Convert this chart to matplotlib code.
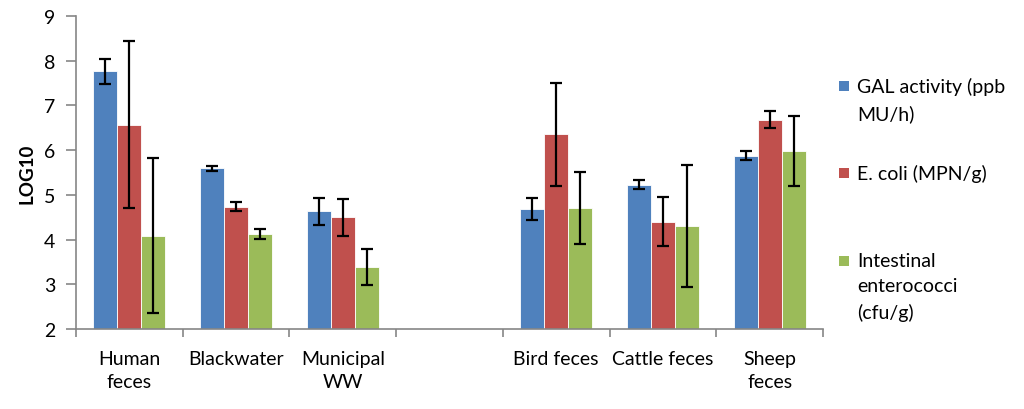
import numpy as np
import matplotlib.pyplot as plt
from matplotlib.patches import Rectangle

plt.rcParams['font.family'] = ['Lato', 'DejaVu Sans']

# categorias (a quarta fica vazia, como no gráfico original)
categorias = ['Human\nfeces', 'Blackwater', 'Municipal\nWW', '',
              'Bird feces', 'Cattle feces', 'Sheep\nfeces']

gal = [7.76, 5.59, 4.63, np.nan, 4.68, 5.23, 5.87]
gal_err = [0.27, 0.05, 0.31, np.nan, 0.25, 0.10, 0.10]

ecoli = [6.57, 4.73, 4.50, np.nan, 6.35, 4.40, 6.68]
ecoli_err = [1.87, 0.10, 0.41, np.nan, 1.15, 0.55, 0.19]

entero = [4.09, 4.13, 3.39, np.nan, 4.71, 4.30, 5.98]
entero_err = [1.74, 0.11, 0.40, np.nan, 0.81, 1.37, 0.79]

series = [
    (gal, gal_err, '#4F81BD', 'GAL activity (ppb\nMU/h)'),
    (ecoli, ecoli_err, '#C0504D', 'E. coli (MPN/g)'),
    (entero, entero_err, '#9BBB59', 'Intestinal\nenterococci\n(cfu/g)'),
]

fs = 14

fig = plt.figure(figsize=(10.24, 4.1), dpi=100)
ax = fig.add_axes([76 / 1024, 80 / 410, 747 / 1024, 313 / 410])

x = np.arange(len(categorias))
w = 0.225
for i, (vals, errs, cor, nome) in enumerate(series):
    pos = x + (i - 1) * w
    ax.bar(pos, np.array(vals) - 2, width=w, bottom=2, color=cor,
           edgecolor='white', linewidth=0.6)
    ax.errorbar(pos, vals, yerr=errs, fmt='none', ecolor='black',
                elinewidth=1.6, capsize=4.5, capthick=1.6)

ax.set_xlim(-0.5, len(categorias) - 0.5)
ax.set_ylim(2, 9)
ax.set_yticks(range(2, 10))
ax.set_ylabel('LOG10', fontsize=fs - 0.5, fontweight='bold')
ax.yaxis.set_label_coords(-41 / 747, 0.5)

# ticks maiores nas fronteiras, rótulos nas posições centrais
ax.set_xticks(np.arange(len(categorias) + 1) - 0.5)
ax.set_xticklabels([])
ax.set_xticks(x, minor=True)
ax.set_xticklabels(categorias, minor=True, fontsize=fs, linespacing=1.45)
ax.tick_params(axis='x', which='minor', length=0, pad=15)
ax.tick_params(axis='x', which='major', length=6, color='#868686', width=1.2)
ax.tick_params(axis='y', length=7, color='#868686', width=1.2, labelsize=fs,
               pad=8)
for lado in ['top', 'right']:
    ax.spines[lado].set_visible(False)
for lado in ['left', 'bottom']:
    ax.spines[lado].set_color('#868686')
    ax.spines[lado].set_linewidth(1.2)

# legenda desenhada à mão (quadrado alinhado com a primeira linha)
legenda_y = [87, 174, 262]
for (vals, errs, cor, nome), yy in zip(series, legenda_y):
    fig.add_artist(Rectangle((839 / 1024, (410 - yy - 5) / 410), 10 / 1024,
                             10 / 410, transform=fig.transFigure,
                             facecolor=cor, edgecolor='none'))
    fig.text(857 / 1024, (410 - yy + 9) / 410, nome, fontsize=fs,
             va='top', ha='left', linespacing=1.6)

fig.savefig('out.png', dpi=100)
